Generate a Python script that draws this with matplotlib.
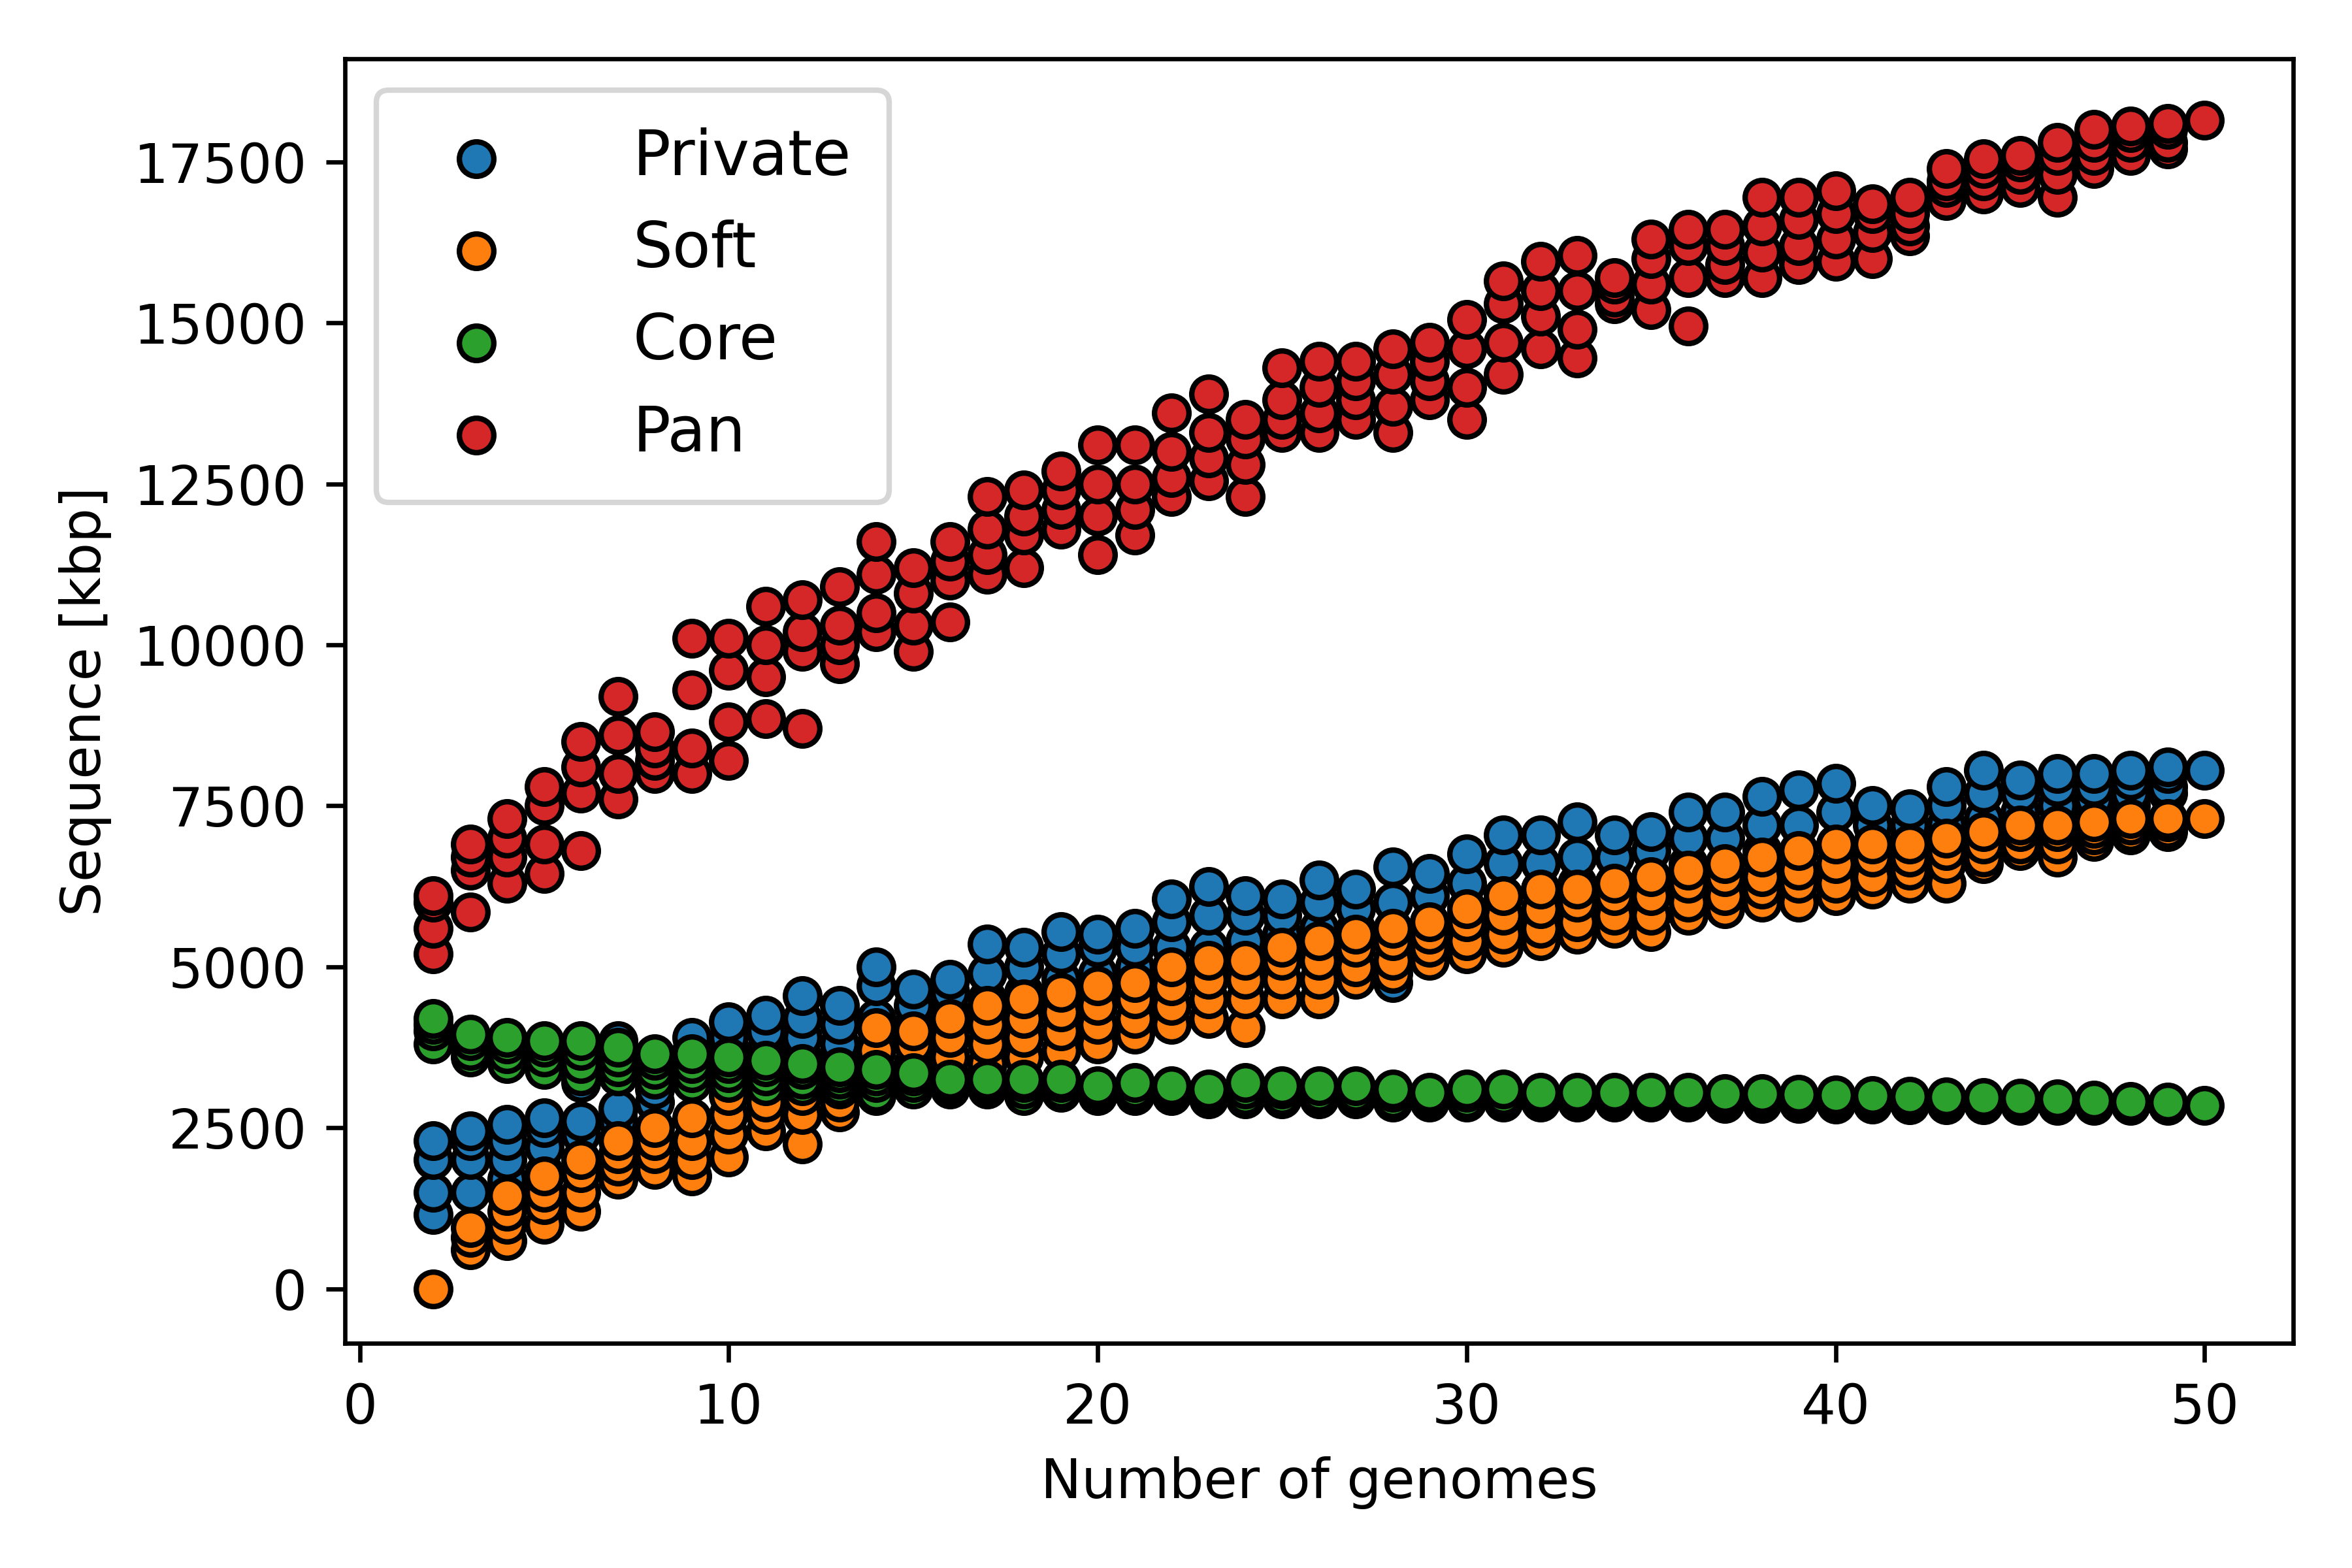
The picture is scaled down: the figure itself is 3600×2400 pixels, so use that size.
import matplotlib
matplotlib.use("Agg")
import matplotlib.pyplot as plt

genomes = list(range(2, 51))

private = [
    [1150, 1500, 2000, 2300], [1500, 2000, 2300, 2450], [1700, 2000, 2300, 2550], [1800, 2200, 2500, 2650],
    [2400, 2600, 3200, 3800], [2600, 2800, 3300, 3850], [2900, 3100, 3400, 3600], [3300, 3500, 3700, 3900],
    [3400, 3700, 3900, 4150], [3500, 3700, 4000, 4250], [3600, 3900, 4200, 4550], [3600, 3800, 4100, 4400],
    [3800, 4200, 4700, 5000], [3900, 4100, 4400, 4650], [4000, 4300, 4600, 4800], [4100, 4500, 4900, 5350],
    [4300, 4600, 5000, 5300], [4400, 4800, 5200, 5550], [4600, 4900, 5300, 5500], [4700, 5000, 5300, 5600],
    [4900, 5300, 5700, 6050], [4900, 5300, 5800, 6250], [5000, 5400, 5800, 6100], [5100, 5500, 5800, 6050],
    [5200, 5600, 6000, 6350], [5300, 5600, 5900, 6200], [4750, 5400, 6000, 6550], [5400, 5700, 6100, 6450],
    [5500, 5900, 6300, 6750], [5700, 6100, 6600, 7050], [5800, 6200, 6600, 7050], [5900, 6300, 6700, 7250],
    [6000, 6300, 6700, 7050], [6100, 6400, 6800, 7100], [6200, 6600, 7000, 7400], [6300, 6600, 7000, 7400],
    [6400, 6800, 7200, 7650], [6400, 6800, 7200, 7750], [6500, 6900, 7400, 7850], [6600, 6900, 7200, 7500],
    [6700, 7000, 7200, 7450], [6900, 7200, 7500, 7800], [7000, 7300, 7700, 8050], [7100, 7400, 7700, 7900],
    [7200, 7500, 7800, 8000], [7400, 7600, 7800, 8000], [7500, 7700, 7900, 8050], [7700, 7800, 8000, 8100],
    [8050],
]

soft = [
    [0], [600, 800, 950], [750, 1000, 1200, 1450], [1000, 1300, 1500, 1750],
    [1200, 1500, 1800, 2000], [1700, 1900, 2100, 2300], [1850, 2100, 2300, 2500], [1750, 2000, 2300, 2650],
    [2050, 2400, 2700, 3000], [2450, 2700, 2900, 3200], [2250, 2700, 3000, 3300], [2750, 2900, 3100, 3300],
    [3000, 3300, 3700, 4050], [3200, 3500, 3800, 4000], [3300, 3600, 3900, 4200], [3500, 3800, 4100, 4400],
    [3600, 3900, 4200, 4500], [3700, 4000, 4300, 4600], [3800, 4100, 4400, 4700], [3950, 4200, 4500, 4750],
    [4100, 4400, 4700, 5000], [4200, 4500, 4800, 5100], [4050, 4500, 4800, 5100], [4500, 4800, 5100, 5300],
    [4500, 4800, 5100, 5400], [4800, 5000, 5300, 5500], [4900, 5100, 5400, 5600], [5100, 5300, 5500, 5700],
    [5200, 5400, 5700, 5900], [5300, 5500, 5800, 6100], [5400, 5600, 5900, 6200], [5500, 5700, 6000, 6200],
    [5600, 5800, 6100, 6300], [5550, 5800, 6100, 6400], [5800, 6000, 6300, 6500], [5900, 6100, 6400, 6600],
    [6000, 6200, 6400, 6700], [6000, 6300, 6500, 6800], [6100, 6300, 6600, 6900], [6200, 6400, 6700, 6900],
    [6300, 6500, 6700, 6900], [6300, 6600, 6800, 7000], [6600, 6700, 6900, 7100], [6800, 6900, 7100, 7200],
    [6700, 6900, 7100, 7200], [6950, 7050, 7150, 7250], [7050, 7100, 7200, 7300], [7100, 7150, 7250, 7300],
    [7300],
]

core = [
    [3800, 4000, 4100, 4200], [3600, 3700, 3850, 3950], [3500, 3650, 3800, 3900], [3400, 3600, 3750, 3850],
    [3300, 3500, 3700, 3850], [3300, 3450, 3600, 3750], [3250, 3400, 3550, 3650], [3200, 3350, 3500, 3650],
    [3200, 3350, 3500, 3600], [3150, 3300, 3450, 3550], [3150, 3250, 3400, 3500], [3150, 3250, 3350, 3450],
    [3050, 3200, 3300, 3400], [3100, 3200, 3300, 3350], [3100, 3150, 3200, 3250], [3100, 3150, 3200, 3250],
    [3000, 3100, 3200, 3250], [3050, 3100, 3200, 3250], [3000, 3050, 3100, 3150], [3000, 3050, 3100, 3200],
    [3000, 3050, 3100, 3150], [2950, 3000, 3050, 3100], [2950, 3000, 3100, 3200], [2950, 3000, 3100, 3150],
    [2950, 3000, 3050, 3150], [2950, 3000, 3050, 3150], [2900, 2950, 3050, 3100], [2900, 2950, 3000, 3050],
    [2900, 2950, 3050, 3100], [2900, 2950, 3000, 3100], [2900, 2950, 3000, 3050], [2900, 2950, 3000, 3050],
    [2900, 2950, 3000, 3050], [2900, 2950, 3000, 3050], [2900, 2950, 3000, 3050], [2880, 2930, 2980, 3030],
    [2880, 2930, 2980, 3030], [2880, 2920, 2970, 3020], [2870, 2920, 2960, 3010], [2870, 2910, 2950, 3000],
    [2860, 2900, 2950, 2990], [2860, 2900, 2940, 2980], [2860, 2890, 2930, 2970], [2850, 2880, 2920, 2960],
    [2850, 2880, 2910, 2950], [2850, 2870, 2900, 2930], [2850, 2870, 2890, 2910], [2850, 2860, 2880, 2900],
    [2850],
]

pan = [
    [5200, 5600, 6000, 6100], [5850, 6500, 6700, 6900], [6300, 6700, 7000, 7300], [6450, 6900, 7500, 7800],
    [6800, 7700, 8100, 8500], [7600, 8000, 8600, 9200], [8000, 8200, 8400, 8650], [8000, 8400, 9300, 10100],
    [8200, 8800, 9600, 10100], [8850, 9500, 10000, 10600], [8700, 9900, 10200, 10700], [9700, 10000, 10300, 10900],
    [10200, 10500, 11100, 11600], [9900, 10300, 10800, 11200], [10350, 11000, 11300, 11600], [11100, 11400, 11800, 12300],
    [11200, 11700, 12000, 12400], [11800, 12100, 12400, 12700], [11400, 12000, 12500, 13100], [11700, 12100, 12500, 13100],
    [12300, 12600, 13000, 13600], [12550, 12900, 13300, 13900], [12300, 12800, 13200, 13500], [13300, 13500, 13800, 14300],
    [13300, 13600, 14000, 14400], [13500, 13800, 14100, 14400], [13300, 13700, 14200, 14600], [13800, 14100, 14400, 14700],
    [13500, 14000, 14600, 15050], [14200, 14700, 15300, 15650], [14600, 15100, 15500, 15950], [14450, 14900, 15500, 16050],
    [15300, 15400, 15600, 15700], [15200, 15600, 16000, 16300], [14950, 15700, 16200, 16450], [15700, 15900, 16200, 16450],
    [15700, 16100, 16500, 16950], [15900, 16200, 16600, 16950], [15950, 16300, 16700, 17050], [16000, 16400, 16700, 16850],
    [16350, 16500, 16700, 16950], [16900, 17100, 17200, 17400], [17000, 17200, 17400, 17550], [17100, 17300, 17500, 17600],
    [16950, 17300, 17600, 17800], [17400, 17600, 17800, 18000], [17600, 17800, 17950, 18050], [17700, 17800, 18000, 18100],
    [18150],
]

series = [("Private", private, "tab:blue"), ("Soft", soft, "tab:orange"),
          ("Core", core, "tab:green"), ("Pan", pan, "tab:red")]

fig, ax = plt.subplots(figsize=(6, 4), dpi=600)
for label, vals, color in series:
    xs, ys = [], []
    for g, v in zip(genomes, vals):
        xs += [g] * len(v)
        ys += v
    ax.scatter(xs, ys, s=40, c=color, edgecolors="black", linewidths=1, label=label)

ax.set_xlabel("Number of genomes")
ax.set_ylabel("Sequence [kbp]")
ax.set_ylim(-850, 19100)
ax.legend(loc="upper left", fontsize=11.5, handletextpad=1.5, borderpad=0.6)
fig.tight_layout()
fig.savefig("out.png", dpi=600)
